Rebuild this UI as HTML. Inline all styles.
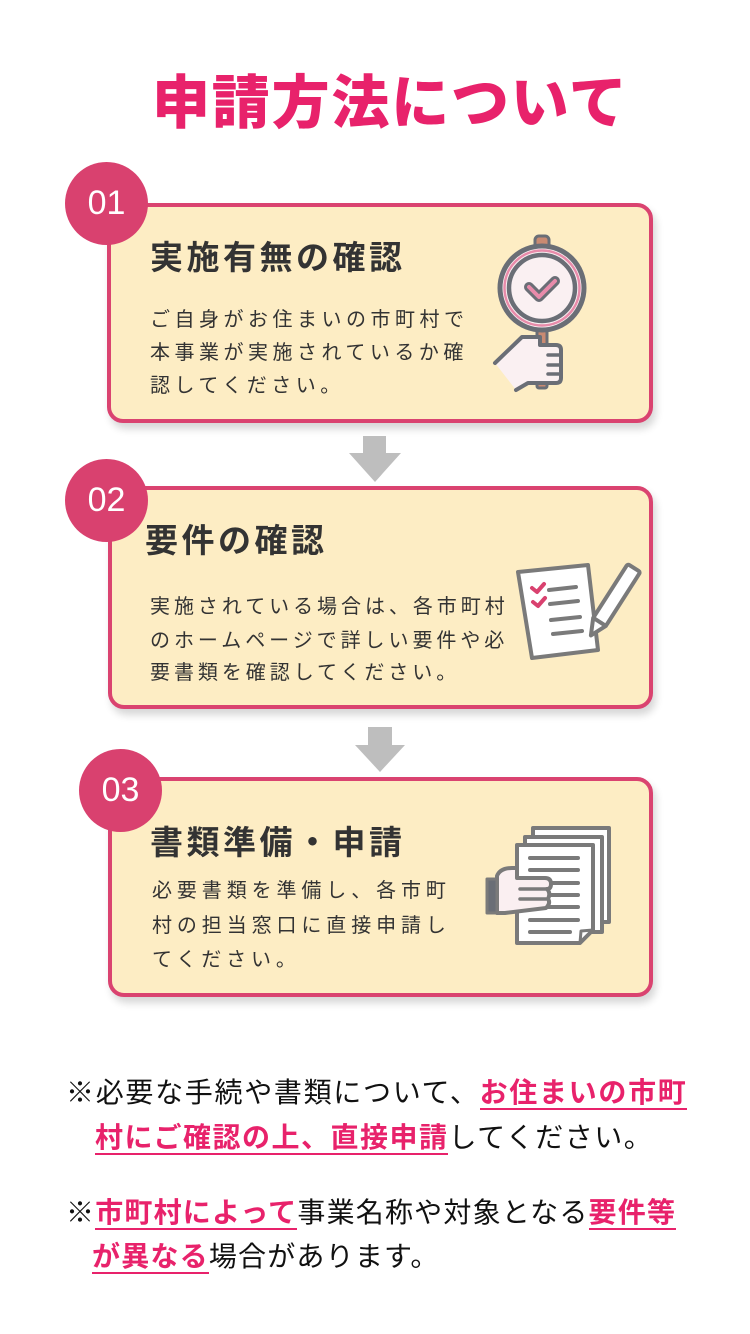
<!DOCTYPE html>
<html><head><meta charset="utf-8">
<style>
html,body{margin:0;padding:0;background:#fff;}
body{width:750px;height:1334px;position:relative;overflow:hidden;font-family:"Liberation Sans","Noto Sans CJK JP",sans-serif;}
.t{position:absolute;white-space:nowrap;line-height:1;}
.title{left:152px;top:75px;font-size:58px;font-weight:900;color:#E8226B;letter-spacing:1.8px;}
.card{position:absolute;box-sizing:border-box;border:4px solid #DA4370;border-radius:16px;background:#FDEDC4;box-shadow:3px 6px 8px rgba(0,0,0,0.16);}
.num{position:absolute;width:83px;height:83px;border-radius:50%;background:#D9416F;color:#fff;font-size:34px;font-weight:500;text-align:center;line-height:83px;}
.ct{font-size:33px;font-weight:700;color:#333;letter-spacing:3.5px;}
.cb{font-size:20px;color:#333;letter-spacing:4.5px;}
.note{font-size:28px;color:#111;letter-spacing:1.2px;}
.pk{color:#E8226B;font-weight:700;border-bottom:2.5px solid #E8226B;}
</style></head><body>

<div class="t title">申請方法について</div>

<!-- Card 1 -->
<div class="card" style="left:107px;top:203px;width:546px;height:220px;"></div>
<div class="num" style="left:65px;top:162px;">01</div>
<div class="t ct" style="left:150px;top:241px;">実施有無の確認</div>
<div class="t cb" style="left:150px;top:310px;">ご自身がお住まいの市町村で</div>
<div class="t cb" style="left:150px;top:343px;">本事業が実施されているか確</div>
<div class="t cb" style="left:150px;top:376px;">認してください。</div>

<!-- Card 2 -->
<div class="card" style="left:108px;top:486px;width:545px;height:223px;"></div>
<div class="num" style="left:65px;top:459px;">02</div>
<div class="t ct" style="left:145px;top:524px;">要件の確認</div>
<div class="t cb" style="left:150px;top:597px;letter-spacing:3.95px;">実施されている場合は、各市町村</div>
<div class="t cb" style="left:150px;top:631px;letter-spacing:3.95px;">のホームページで詳しい要件や必</div>
<div class="t cb" style="left:150px;top:663px;letter-spacing:3.95px;">要書類を確認してください。</div>

<!-- Card 3 -->
<div class="card" style="left:108px;top:777px;width:545px;height:220px;"></div>
<div class="num" style="left:79px;top:749px;">03</div>
<div class="t ct" style="left:150px;top:826px;">書類準備・申請</div>
<div class="t cb" style="left:152px;top:881px;letter-spacing:4.9px;">必要書類を準備し、各市町</div>
<div class="t cb" style="left:152px;top:916px;letter-spacing:4.9px;">村の担当窓口に直接申請し</div>
<div class="t cb" style="left:152px;top:950px;letter-spacing:4.9px;">てください。</div>

<!-- Notes -->
<div class="t note" style="left:66px;top:1079px;letter-spacing:1.7px;">※必要な手続や書類について、<span class="pk">お住まいの市町</span></div>
<div class="t note" style="left:95px;top:1124px;letter-spacing:1.5px;"><span class="pk">村にご確認の上、直接申請</span>してください。</div>
<div class="t note" style="left:66px;top:1199px;">※<span class="pk">市町村によって</span>事業名称や対象となる<span class="pk">要件等</span></div>
<div class="t note" style="left:92px;top:1243px;"><span class="pk">が異なる</span>場合があります。</div>

<svg width="750" height="1334" style="position:absolute;left:0;top:0;" xmlns="http://www.w3.org/2000/svg">
  <!-- arrows -->
  <g fill="#BEBEBE">
    <rect x="363" y="436" width="23" height="17"/>
    <polygon points="349,453 401,453 375,482"/>
    <rect x="368" y="727" width="24" height="18"/>
    <polygon points="355,745 405,745 380,772"/>
  </g>

  <!-- Icon 1: magnifier + hand -->
  <g stroke="#6A6E76" stroke-linejoin="round" stroke-linecap="round">
    <rect x="535" y="236" width="14" height="13" rx="4" fill="#C98A72" stroke-width="3"/>
    <rect x="537" y="326" width="10" height="62" rx="2" fill="#C98A72" stroke-width="3"/>
    <circle cx="542" cy="288" r="42" fill="#FAF0F2" stroke-width="5"/>
    <circle cx="542" cy="288" r="37.5" fill="none" stroke="#E88BAA" stroke-width="2.5"/>
    <circle cx="542" cy="288" r="33" fill="#FAF0F2" stroke-width="4.5"/>
    <polyline points="529,287 539,297 555,281" fill="none" stroke-width="10"/>
    <polyline points="529,287 539,297 555,281" fill="none" stroke="#E88BAA" stroke-width="4"/>
    <path d="M495,363 L522,337 L540,337 L540,345 L556,345 Q561,345 561,350 L561,378 Q561,383 556,383 L528,383 L516,390 Z" fill="#FAF0F2" stroke="none"/>
    <path d="M495,363 L522,337 L540,337 L540,345 L556,345 Q561,345 561,350 L561,378 Q561,383 556,383 L528,383 L516,390" fill="none" stroke-width="4"/>
    <line x1="548" y1="355" x2="560" y2="355" stroke-width="3.5"/>
    <line x1="548" y1="365" x2="560" y2="365" stroke-width="3.5"/>
    <line x1="548" y1="374" x2="560" y2="374" stroke-width="3.5"/>
  </g>

  <!-- Icon 2: checklist + pencil -->
  <g stroke="#7A7A7A" stroke-linejoin="round" stroke-linecap="round">
    <polygon points="518,572 588,565 598,650 532,658" fill="#fff" stroke-width="4"/>
    <polyline points="532,588 537,592 544,584" fill="none" stroke="#D9416F" stroke-width="4"/>
    <polyline points="533,602 538,606 545,598" fill="none" stroke="#D9416F" stroke-width="4"/>
    <line x1="549" y1="590" x2="576" y2="587" stroke-width="4"/>
    <line x1="550" y1="604" x2="578" y2="601" stroke-width="4"/>
    <line x1="551" y1="620" x2="580" y2="617" stroke-width="4"/>
    <line x1="553" y1="634" x2="582" y2="631" stroke-width="4"/>
    <g transform="translate(634,568) rotate(122.6)">
      <rect x="0" y="-7.5" width="64" height="15" rx="2" fill="#fff" stroke-width="4"/>
      <polygon points="64,-7.5 80,0 64,7.5" fill="#fff" stroke-width="4"/>
    </g>
  </g>

  <!-- Icon 3: papers + hand -->
  <g stroke="#7A7A7A" stroke-linejoin="round" stroke-linecap="round">
    <rect x="533" y="828" width="76" height="94" fill="#fff" stroke-width="4"/>
    <rect x="525" y="837" width="77" height="95" fill="#fff" stroke-width="4"/>
    <path d="M517,845 L593,845 L593,930 L580,943 L517,943 Z" fill="#fff" stroke-width="4"/>
    <path d="M593,930 L581,931 L580,943" fill="none" stroke-width="3"/>
    <line x1="530" y1="858" x2="578" y2="858" stroke-width="4"/>
    <line x1="530" y1="870" x2="578" y2="870" stroke-width="4"/>
    <line x1="530" y1="883" x2="578" y2="883" stroke-width="4"/>
    <line x1="530" y1="895" x2="578" y2="895" stroke-width="4"/>
    <line x1="530" y1="907" x2="578" y2="907" stroke-width="4"/>
    <line x1="530" y1="920" x2="578" y2="920" stroke-width="4"/>
    <line x1="530" y1="932" x2="570" y2="932" stroke-width="4"/>
    <path d="M497,876 Q500,868 512,868 L517,868 L517,878 L545,878 Q551,878 551,884 Q551,889 547,889 Q551,893 548,899 Q551,903 546,908 L505,913 L497,913 Z" fill="#FAEFF1" stroke-width="4"/>
    <line x1="520" y1="889" x2="546" y2="889" stroke-width="3.5"/>
    <line x1="520" y1="899" x2="546" y2="899" stroke-width="3.5"/>
    <rect x="487" y="879" width="10" height="34" fill="#6A6E76" stroke-width="3"/>
  </g>
</svg>
</body></html>
